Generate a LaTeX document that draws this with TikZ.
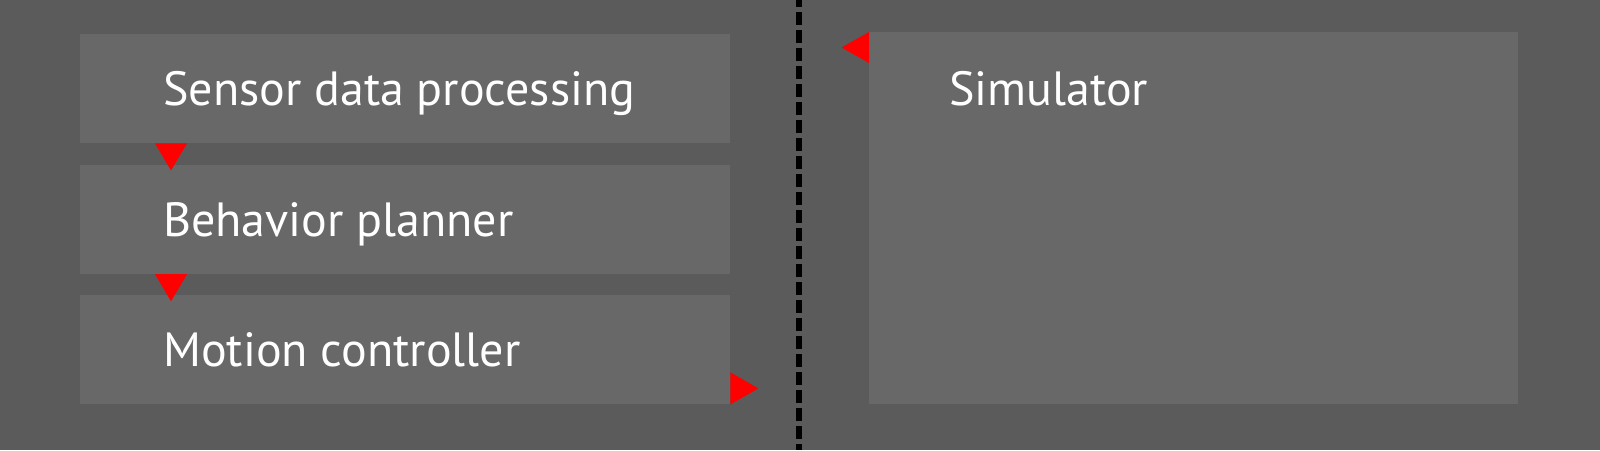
\documentclass[tikz,border=0pt]{standalone}
\usepackage{fontspec}
\setmainfont{PT Sans}
\usetikzlibrary{calc}
\definecolor{bgcol}{HTML}{5B5B5B}
\definecolor{boxcol}{HTML}{686868}
\definecolor{tricol}{HTML}{FF0000}
\tikzset{
  panel/.style={rectangle, fill=boxcol, draw=none, inner sep=0pt, anchor=north west},
  lbl/.style={text=white, inner sep=0pt, anchor=base west, font=\fontsize{48}{51}\selectfont},
  tri/.style={fill=tricol, draw=none},
  divider/.style={draw=black, line width=6.5pt, dash pattern=on 12.7pt off 5.3pt, dash phase=6pt}
}
\begin{document}
\begin{tikzpicture}[x=1pt,y=-1pt]
\fill[bgcol] (0,0) rectangle (1600,450);
\useasboundingbox (0,0) rectangle (1600,450);
% left boxes
\node[panel, minimum width=650.5pt, minimum height=109pt] (sdp) at (79.5,34) {};
\node[panel, minimum width=650.5pt, minimum height=109pt] (bp) at (79.5,164.3) {};
\node[panel, minimum width=650.5pt, minimum height=109pt] (mc) at (79.5,295) {};
% right box
\node[panel, minimum width=649pt, minimum height=372pt] (sim) at (869,32) {};
% labels
\node[lbl] (tsdp) at (163,105.7) {Sensor data processing};
\node[lbl] (tbp) at (163,236.7) {Behavior planner};
\node[lbl] (tmc) at (163,366.7) {Motion controller};
\node[lbl] (tsim) at (949,105.5) {Simulator};
% divider
\coordinate (dtop) at (799,0);
\coordinate (dbot) at (799,450);
\draw[divider] (dtop) -- (dbot);
% arrow heads
\fill[tri] ($(sdp.south west)+(75.5,0)$) -- ($(sdp.south west)+(107.5,0)$) -- ($(sdp.south west)+(91.5,27)$) -- cycle;
\fill[tri] ($(bp.south west)+(75.5,0.5)$) -- ($(bp.south west)+(107.5,0.5)$) -- ($(bp.south west)+(91.5,27.5)$) -- cycle;
\fill[tri] ($(mc.south east)+(0,-32)$) -- ($(mc.south east)+(0,0)$) -- ($(mc.south east)+(28,-16)$) -- cycle;
\fill[tri] ($(sim.north west)+(0,0)$) -- ($(sim.north west)+(0,31)$) -- ($(sim.north west)+(-27.5,15.5)$) -- cycle;
\end{tikzpicture}
\end{document}
